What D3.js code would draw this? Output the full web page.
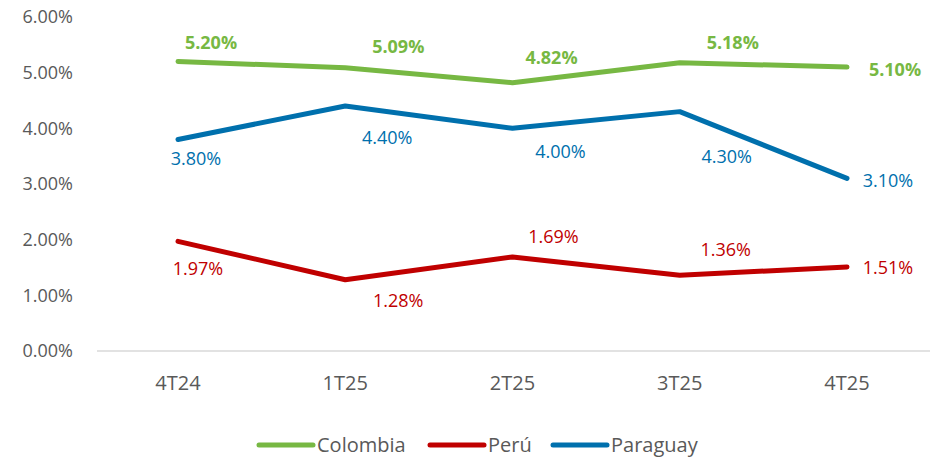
<!DOCTYPE html>
<html>
<head>
<meta charset="utf-8">
<script src="https://cdn.jsdelivr.net/npm/d3@7"></script>
<style>
  body { margin: 0; background: #fff; }
  svg { font-family: "Open Sans", "Noto Sans", sans-serif; }
</style>
</head>
<body>
<svg width="933" height="459"></svg>
<script>
var categories = ["4T24", "1T25", "2T25", "3T25", "4T25"]
var colombia = [5.20, 5.09, 4.82, 5.18, 5.10]
var peru = [1.97, 1.28, 1.69, 1.36, 1.51]
var paraguay = [3.80, 4.40, 4.00, 4.30, 3.10]
var yTicks = [0, 1, 2, 3, 4, 5, 6]

// label offsets (dx, dy) from each point, as placed in the original
var series = [
  { name: "Colombia", values: colombia, color: "#77B843", bold: true,
    offs: [[33,-19],[53,-21],[39,-25],[53,-20],[48,3]] },
  { name: "Perú", values: peru, color: "#C00000", bold: false,
    offs: [[20,27],[53,21],[41,-20],[46,-26],[41,1]] },
  { name: "Paraguay", values: paraguay, color: "#0070AD", bold: false,
    offs: [[18,19],[42,32],[48,23],[47,45],[41,2]] }
]

var svg = d3.select("svg")
var x = d3.scalePoint().domain(categories).range([178, 847])
var y = d3.scaleLinear().domain([0, 6]).range([351, 17])

// baseline
svg.append("line")
  .attr("x1", 97).attr("x2", 930)
  .attr("y1", y(0)).attr("y2", y(0))
  .attr("stroke", "#d9d9d9").attr("stroke-width", 1.5)

// y tick labels
svg.selectAll(".ytick").data(yTicks).enter().append("text")
  .attr("x", 73).attr("y", function(d) { return y(d) })
  .attr("dy", "0.35em")
  .attr("text-anchor", "end")
  .attr("font-size", 18).attr("fill", "#595959")
  .text(function(d) { return d.toFixed(2) + "%" })

// x tick labels
svg.selectAll(".xtick").data(categories).enter().append("text")
  .attr("x", function(d) { return x(d) }).attr("y", 383)
  .attr("dy", "0.35em")
  .attr("text-anchor", "middle")
  .attr("font-size", 20).attr("fill", "#595959")
  .text(function(d) { return d })

var line = d3.line()
  .x(function(d, i) { return x(categories[i]) })
  .y(function(d) { return y(d) })

series.forEach(function(s) {
  svg.append("path")
    .attr("d", line(s.values))
    .attr("fill", "none")
    .attr("stroke", s.color).attr("stroke-width", 5)
    .attr("stroke-linecap", "round").attr("stroke-linejoin", "round")

  svg.selectAll(null).data(s.values).enter().append("text")
    .attr("x", function(d, i) { return x(categories[i]) + s.offs[i][0] })
    .attr("y", function(d, i) { return y(d) + s.offs[i][1] })
    .attr("dy", "0.35em")
    .attr("text-anchor", "middle")
    .attr("font-size", 18)
    .attr("font-weight", s.bold ? "bold" : "normal")
    .attr("fill", s.color)
    .text(function(d) { return d.toFixed(2) + "%" })
})

// legend
var legendX = [259, 430, 553]
var leg = svg.selectAll(".leg").data(series).enter().append("g")
  .attr("transform", function(d, i) { return "translate(" + legendX[i] + ",445)" })
leg.append("line")
  .attr("x1", 0).attr("x2", 54).attr("y1", 0).attr("y2", 0)
  .attr("stroke", function(d) { return d.color })
  .attr("stroke-width", 5).attr("stroke-linecap", "round")
leg.append("text")
  .attr("x", 58).attr("dy", "0.35em")
  .attr("font-size", 20).attr("fill", "#595959")
  .text(function(d) { return d.name })
</script>
</body>
</html>
